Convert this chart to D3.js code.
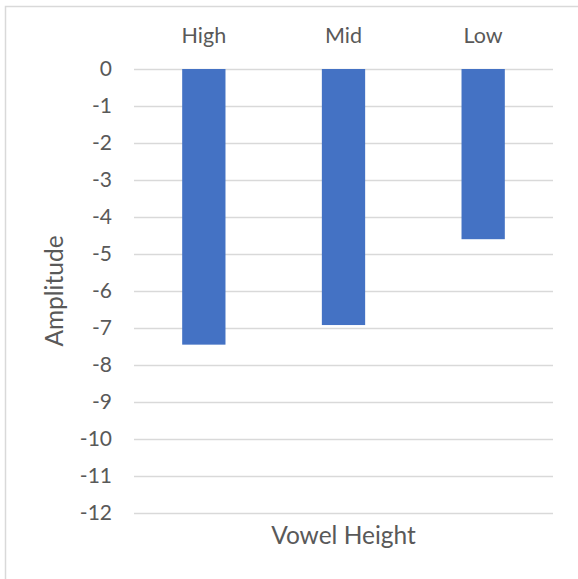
<!DOCTYPE html>
<html>
<head>
<meta charset="utf-8">
<script src="https://cdn.jsdelivr.net/npm/d3@7"></script>
<style>
  html, body { margin: 0; padding: 0; background: #fff; }
  svg { display: block; }
  text { font-family: Lato, "Open Sans", sans-serif; fill: #595959; }
</style>
</head>
<body>
<svg id="chart" width="578" height="579"></svg>
<script>
// Mean amplitude by vowel height
const categories = ["High", "Mid", "Low"];
const amplitudes = [-7.45, -6.92, -4.6];
const yTicks = [0, -1, -2, -3, -4, -5, -6, -7, -8, -9, -10, -11, -12];
const xTitle = "Vowel Height";
const yTitle = "Amplitude";

const W = 578, H = 579;
const plot = { left: 134, right: 553, top: 69, bottom: 513 };

const svg = d3.select("#chart");

// chart frame (only top and left edges fall inside the page)
svg.append("path")
  .attr("d", `M5.5,${H} V6.5 H${W}`)
  .attr("fill", "none")
  .attr("stroke", "#d9d9d9")
  .attr("stroke-width", 1.5);

const x = d3.scaleBand()
  .domain(categories)
  .range([plot.left, plot.right])
  .paddingInner(0.69)
  .paddingOuter(0.345);

const y = d3.scaleLinear()
  .domain([0, -12])
  .range([plot.top, plot.bottom]);

// gridlines
const yAxis = d3.axisLeft(y)
  .tickValues(yTicks)
  .tickSize(-(plot.right - plot.left))
  .tickPadding(22)
  .tickFormat(d3.format("d"));

const gy = svg.append("g")
  .attr("transform", `translate(${plot.left},0)`)
  .call(yAxis);
gy.select(".domain").remove();
gy.selectAll(".tick line")
  .attr("stroke", "#d9d9d9")
  .attr("stroke-width", 1.5);
gy.selectAll(".tick text")
  .attr("font-size", 21)
  .attr("font-family", "Lato, 'Open Sans', sans-serif")
  .attr("fill", "#595959")
  .text(d => d === 0 ? "0" : "-" + Math.abs(d));

// bars hang down from zero
svg.append("g")
  .selectAll("rect")
  .data(categories.map((c, i) => ({ c, v: amplitudes[i] })))
  .join("rect")
  .attr("x", d => x(d.c))
  .attr("width", x.bandwidth())
  .attr("y", y(0))
  .attr("height", d => y(d.v) - y(0))
  .attr("fill", "#4472C4");

// category labels above the plot
const xAxis = d3.axisTop(x).tickSize(0).tickPadding(26);
const gx = svg.append("g")
  .attr("transform", `translate(0,${plot.top})`)
  .call(xAxis);
gx.select(".domain").remove();
gx.selectAll(".tick text")
  .attr("font-size", 21.5)
  .attr("font-family", "Lato, 'Open Sans', sans-serif")
  .attr("fill", "#595959");

// axis titles
svg.append("text")
  .attr("x", (plot.left + plot.right) / 2)
  .attr("y", 544)
  .attr("text-anchor", "middle")
  .attr("font-size", 24.5)
  .text(xTitle);

svg.append("text")
  .attr("transform", `translate(63,${(plot.top + plot.bottom) / 2}) rotate(-90)`)
  .attr("text-anchor", "middle")
  .attr("font-size", 24.5)
  .text(yTitle);
</script>
</body>
</html>
